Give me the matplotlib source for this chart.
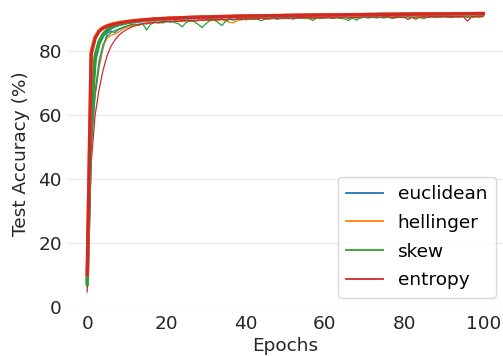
import matplotlib
matplotlib.use("Agg")
import matplotlib.pyplot as plt

epochs = list(range(101))
labels = ["euclidean", "hellinger", "skew", "entropy"]
colors = ["#1f77b4", "#ff7f0e", "#2ca02c", "#d62728"]

euclidean = [8.0, 50.0, 66.0, 75.0, 81.0, 85.5, 86.3, 85.8, 86.8, 87.2,
 87.6, 88.0, 88.2, 88.4, 88.7, 88.5, 88.9, 89.0, 88.8, 89.2,
 89.3, 89.1, 89.4, 89.5, 89.2, 89.6, 89.4, 89.7, 89.5, 89.8,
 89.6, 89.9, 89.7, 89.8, 90.0, 89.7, 90.1, 89.9, 90.0, 90.2,
 89.8, 90.1, 90.2, 90.0, 90.3, 90.1, 90.2, 90.4, 90.0, 90.3,
 90.2, 90.4, 90.1, 90.3, 90.5, 90.2, 90.4, 90.3, 90.5, 90.2,
 90.4, 90.6, 90.3, 90.5, 90.4, 90.6, 90.3, 90.5, 90.6, 90.4,
 90.6, 90.5, 90.7, 90.4, 90.6, 90.5, 90.7, 90.6, 90.4, 90.7,
 90.6, 90.8, 90.5, 90.7, 90.6, 90.8, 90.5, 90.7, 90.8, 90.6,
 90.8, 90.7, 90.5, 90.8, 90.7, 90.9, 90.6, 90.8, 90.7, 90.9,
 90.8]

hellinger = [10.0, 55.0, 68.0, 76.0, 81.5, 84.0, 85.0, 85.3, 86.0, 86.9,
 87.5, 87.8, 88.3, 88.1, 88.6, 88.9, 88.7, 89.1, 89.0, 89.3,
 89.2, 89.4, 89.1, 89.5, 89.3, 89.6, 89.5, 89.3, 89.7, 89.6,
 89.8, 89.5, 89.9, 89.7, 89.8, 89.4, 89.0, 88.9, 89.6, 90.0,
 90.1, 89.9, 90.2, 90.0, 90.3, 90.2, 90.0, 90.3, 90.4, 90.1,
 90.3, 90.2, 90.5, 90.3, 90.4, 90.2, 90.5, 90.4, 90.6, 90.3,
 90.5, 90.4, 90.6, 90.5, 90.3, 90.6, 90.5, 90.7, 90.4, 90.6,
 90.7, 90.5, 90.6, 90.8, 90.5, 90.7, 90.6, 90.8, 90.7, 90.5,
 90.7, 90.8, 90.6, 90.7, 90.9, 90.6, 90.8, 90.7, 90.5, 90.8,
 90.9, 90.7, 90.8, 90.6, 90.9, 90.8, 90.7, 90.9, 90.8, 90.5,
 90.9]

skew = [6.0, 52.0, 67.0, 77.0, 82.0, 84.5, 85.8, 86.5, 86.9, 87.5,
 87.9, 88.3, 88.5, 88.2, 88.6, 86.6, 88.4, 88.9, 89.1, 88.8,
 89.2, 89.4, 89.0, 88.6, 87.6, 89.0, 89.5, 89.3, 88.4, 87.4,
 88.6, 89.6, 89.8, 89.0, 88.0, 89.4, 89.9, 89.7, 90.0, 89.8,
 90.1, 89.9, 90.2, 90.0, 89.5, 90.2, 90.1, 90.3, 90.1, 90.4,
 90.2, 90.3, 90.1, 90.4, 90.3, 90.5, 90.2, 89.6, 90.4, 90.5,
 90.3, 90.6, 90.4, 90.5, 90.3, 90.1, 89.6, 90.4, 89.7, 90.5,
 90.6, 90.4, 90.7, 90.5, 90.6, 90.4, 90.7, 90.2, 90.6, 90.7,
 90.5, 90.8, 90.6, 90.7, 90.5, 90.2, 90.7, 90.8, 90.6, 90.8,
 90.7, 90.9, 90.6, 90.8, 90.7, 90.9, 90.8, 90.6, 90.9, 90.8,
 91.0]

entropy = [4.7, 45.0, 60.0, 68.0, 74.0, 78.5, 81.5, 83.5, 85.0, 86.0,
 86.8, 87.4, 87.9, 88.2, 88.5, 88.7, 88.9, 89.1, 88.9, 89.2,
 89.4, 89.2, 89.5, 89.3, 89.6, 89.5, 89.7, 89.4, 89.8, 89.6,
 89.9, 89.7, 89.9, 89.8, 90.0, 89.8, 90.1, 89.9, 90.2, 90.0,
 90.1, 90.3, 90.0, 90.2, 90.4, 90.1, 90.3, 90.2, 90.4, 90.3,
 90.5, 90.2, 90.4, 90.3, 90.5, 90.4, 90.6, 90.3, 90.5, 90.4,
 90.6, 90.5, 90.3, 90.6, 90.5, 90.7, 90.4, 90.6, 90.5, 90.7,
 90.6, 90.8, 90.5, 90.7, 90.6, 90.8, 90.7, 90.5, 90.8, 90.6,
 90.7, 89.9, 90.6, 90.0, 90.7, 90.8, 90.6, 90.9, 90.7, 90.8,
 90.9, 90.7, 90.8, 90.9, 90.7, 90.8, 89.4, 90.6, 90.9, 91.0,
 90.9]

# smooth (thick) curves
euclidean_smooth = [8.0, 60.0, 77.5, 82.5, 85.0, 86.4, 87.3, 87.9, 88.3, 88.6,
 88.9, 89.1, 89.3, 89.45, 89.6, 89.7, 89.8, 89.9, 90.0, 90.05,
 90.15, 90.2, 90.25, 90.3, 90.35, 90.4, 90.45, 90.5, 90.55, 90.6,
 90.6, 90.65, 90.7, 90.7, 90.75, 90.8, 90.8, 90.85, 90.85, 90.9,
 90.9, 90.95, 90.95, 91.0, 91.0, 91.0, 91.05, 91.05, 91.1, 91.1,
 91.1, 91.15, 91.15, 91.15, 91.2, 91.2, 91.2, 91.25, 91.25, 91.25,
 91.3, 91.3, 91.3, 91.3, 91.35, 91.35, 91.35, 91.35, 91.4, 91.4,
 91.4, 91.4, 91.45, 91.45, 91.45, 91.45, 91.5, 91.5, 91.5, 91.5,
 91.5, 91.55, 91.55, 91.55, 91.55, 91.6, 91.6, 91.6, 91.6, 91.6,
 91.65, 91.65, 91.65, 91.65, 91.65, 91.7, 91.7, 91.7, 91.7, 91.7,
 91.7]

hellinger_smooth = [10.0, 80.0, 84.5, 86.5, 87.4, 88.0, 88.4, 88.7, 88.95, 89.15,
 89.3, 89.45, 89.6, 89.7, 89.8, 89.9, 90.0, 90.05, 90.15, 90.2,
 90.3, 90.35, 90.4, 90.45, 90.5, 90.55, 90.6, 90.6, 90.65, 90.7,
 90.7, 90.75, 90.8, 90.8, 90.85, 90.85, 90.9, 90.9, 90.95, 90.95,
 91.0, 91.0, 91.05, 91.05, 91.05, 91.1, 91.1, 91.15, 91.15, 91.15,
 91.2, 91.2, 91.2, 91.25, 91.25, 91.25, 91.3, 91.3, 91.3, 91.3,
 91.35, 91.35, 91.35, 91.4, 91.4, 91.4, 91.4, 91.45, 91.45, 91.45,
 91.45, 91.5, 91.5, 91.5, 91.5, 91.55, 91.55, 91.55, 91.55, 91.55,
 91.6, 91.6, 91.6, 91.6, 91.65, 91.65, 91.65, 91.65, 91.65, 91.7,
 91.7, 91.7, 91.7, 91.7, 91.75, 91.75, 91.75, 91.75, 91.75, 91.8,
 91.8]

skew_smooth = [7.0, 62.0, 78.5, 83.0, 85.3, 86.6, 87.4, 88.0, 88.4, 88.7,
 88.95, 89.15, 89.35, 89.5, 89.6, 89.75, 89.85, 89.95, 90.0, 90.1,
 90.15, 90.2, 90.3, 90.35, 90.4, 90.45, 90.5, 90.5, 90.55, 90.6,
 90.65, 90.65, 90.7, 90.75, 90.75, 90.8, 90.8, 90.85, 90.9, 90.9,
 90.95, 90.95, 91.0, 91.0, 91.0, 91.05, 91.05, 91.1, 91.1, 91.1,
 91.15, 91.15, 91.15, 91.2, 91.2, 91.2, 91.25, 91.25, 91.25, 91.3,
 91.3, 91.3, 91.3, 91.35, 91.35, 91.35, 91.4, 91.4, 91.4, 91.4,
 91.45, 91.45, 91.45, 91.45, 91.5, 91.5, 91.5, 91.5, 91.5, 91.55,
 91.55, 91.55, 91.55, 91.6, 91.6, 91.6, 91.6, 91.6, 91.65, 91.65,
 91.65, 91.65, 91.65, 91.7, 91.7, 91.7, 91.7, 91.7, 91.7, 91.75,
 91.75]

entropy_smooth = [10.0, 79.0, 84.0, 86.2, 87.2, 87.8, 88.2, 88.5, 88.8, 89.0,
 89.2, 89.35, 89.5, 89.6, 89.75, 89.85, 89.95, 90.05, 90.1, 90.2,
 90.25, 90.3, 90.35, 90.4, 90.45, 90.5, 90.55, 90.6, 90.6, 90.65,
 90.7, 90.7, 90.75, 90.8, 90.8, 90.85, 90.85, 90.9, 90.9, 90.95,
 90.95, 91.0, 91.0, 91.0, 91.05, 91.05, 91.1, 91.1, 91.1, 91.15,
 91.15, 91.15, 91.2, 91.2, 91.2, 91.25, 91.25, 91.25, 91.3, 91.3,
 91.3, 91.3, 91.35, 91.35, 91.35, 91.35, 91.4, 91.4, 91.4, 91.4,
 91.45, 91.45, 91.45, 91.45, 91.5, 91.5, 91.5, 91.5, 91.5, 91.55,
 91.55, 91.55, 91.55, 91.6, 91.6, 91.6, 91.6, 91.6, 91.65, 91.65,
 91.65, 91.65, 91.65, 91.7, 91.7, 91.7, 91.7, 91.7, 91.75, 91.75,
 91.75]

y_ticks = [0, 20, 40, 60, 80]
x_ticks = [0, 20, 40, 60, 80, 100]

plt.rcParams['font.family'] = ['DejaVu Sans']
FS = 13.3
fig = plt.figure(figsize=(5.03, 3.56), dpi=100)
ax = fig.add_axes([0.134, 0.138, 0.866, 0.862])

thin = [euclidean, hellinger, skew, entropy]
thick = [euclidean_smooth, skew_smooth, hellinger_smooth, entropy_smooth]
thick_colors = [colors[0], colors[2], colors[1], colors[3]]

for vals, lab, c in zip(thin, labels, colors):
    ax.plot(epochs, vals, color=c, lw=0.9, label=lab)
for vals, c in zip(thick, thick_colors):
    ax.plot(epochs, vals, color=c, lw=2.4)

ax.set_xlim(-5, 105)
ax.set_ylim(0, 96)
ax.set_xticks(x_ticks)
ax.set_yticks(y_ticks)
ax.yaxis.grid(True, color='#ebebeb', lw=1.0)
ax.xaxis.grid(False)
ax.set_axisbelow(True)
for s in ax.spines.values():
    s.set_visible(False)
ax.tick_params(length=0, labelsize=FS, colors='#262626')
ax.tick_params(axis='x', pad=6)
ax.tick_params(axis='y', pad=4)
ax.set_xlabel("Epochs", fontsize=FS, color='#262626', labelpad=3)
ax.set_ylabel("Test Accuracy (%)", fontsize=FS, color='#262626', labelpad=6)

handles, labs = ax.get_legend_handles_labels()
leg = ax.legend(handles, labs, loc='lower right', fontsize=FS, frameon=True,
                bbox_to_anchor=(1.004, 0.0), handlelength=2.0, borderpad=0.45,
                labelspacing=0.58)
leg.get_frame().set_edgecolor('#d0d0d0')
for line in leg.get_lines():
    line.set_linewidth(1.3)

fig.savefig("out.png", dpi=100)
